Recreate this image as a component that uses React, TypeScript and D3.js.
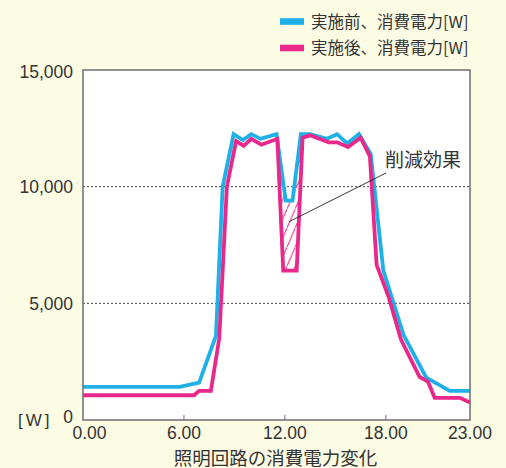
import React, { useRef, useEffect } from 'react';
import * as d3 from 'd3';

// hours / watts
const beforeHours = [0, 5.75, 6.9, 7.9, 8.3, 8.95, 9.5, 10.0, 10.55, 11.5, 12.05, 12.45, 12.95, 13.5, 14.5, 15.1, 15.7, 16.4, 17.1, 17.85, 19.05, 20.4, 21.8, 23];
const beforeWatts = [1420, 1420, 1600, 3600, 10000, 12250, 12000, 12250, 12050, 12250, 9400, 9400, 12250, 12250, 12050, 12250, 11850, 12250, 11400, 6400, 3650, 1820, 1250, 1250];

const afterHours = [0, 6.6, 6.9, 7.6, 8.1, 8.55, 9.1, 9.55, 10.0, 10.6, 11.55, 11.9, 12.7, 13.05, 13.5, 14.6, 15.1, 15.75, 16.5, 17.05, 17.45, 18.15, 18.9, 20.0, 20.5, 20.9, 22.4, 23];
const afterWatts = [1060, 1060, 1250, 1250, 3500, 10000, 11950, 11750, 12050, 11800, 12050, 6400, 6400, 12100, 12200, 11900, 11900, 11700, 12100, 11300, 6650, 5300, 3450, 1850, 1650, 950, 950, 750];

const seriesNames = ['実施前、消費電力[W]', '実施後、消費電力[W]'];
const seriesColors = ['#1eb0e6', '#e8298b'];

const yTicks = [0, 5000, 10000, 15000];
const yGrid = [5000, 10000];
const xTicks = [0, 6, 12, 18, 23];
const xTitle = '照明回路の消費電力変化';
const yUnit = '[W]';
const annotation = '削減効果';
const dipRange = [11.5, 13.0];

const W = 506;
const H = 468;
const FONT = '"Liberation Sans", Arial, "Noto Sans CJK JP", sans-serif';
const JP = '"Noto Sans CJK JP", sans-serif';

const App: React.FC = () => {
  const svgRef = useRef<SVGSVGElement>(null);

  useEffect(() => {
    if (!svgRef.current) return;
    const root = d3.select(svgRef.current);
    root.selectAll('*').remove();

    const margin = { top: 70, right: 36, bottom: 48, left: 83 };
    const x = d3.scaleLinear().domain([0, 23]).range([margin.left, W - margin.right]);
    const y = d3.scaleLinear().domain([0, 15000]).range([H - margin.bottom, margin.top]);

    root.append('rect').attr('width', W).attr('height', H).attr('fill', '#fcfbe4');

    const defs = root.append('defs');
    const pat = defs
      .append('pattern')
      .attr('id', 'hatch')
      .attr('patternUnits', 'userSpaceOnUse')
      .attr('width', 8.2)
      .attr('height', 19);
    pat
      .append('line')
      .attr('x1', -0.5)
      .attr('y1', 20)
      .attr('x2', 8.7)
      .attr('y2', -1)
      .attr('stroke', seriesColors[1])
      .attr('stroke-width', 1);

    // plot area
    root
      .append('rect')
      .attr('x', x(0))
      .attr('y', y(15000))
      .attr('width', x(23) - x(0))
      .attr('height', y(0) - y(15000))
      .attr('fill', '#fff');

    // grid
    root
      .append('g')
      .selectAll('line')
      .data(yGrid)
      .enter()
      .append('line')
      .attr('x1', x(0))
      .attr('x2', x(23))
      .attr('y1', (d) => y(d))
      .attr('y2', (d) => y(d))
      .attr('stroke', '#444')
      .attr('stroke-width', 1)
      .attr('stroke-dasharray', '2,2');

    const before = beforeHours.map((h, i) => [h, beforeWatts[i]] as [number, number]);
    const after = afterHours.map((h, i) => [h, afterWatts[i]] as [number, number]);

    // hatched reduction area: under "before", above "after", inside the dip
    const clipAfter = defs.append('clipPath').attr('id', 'above-after');
    clipAfter
      .append('path')
      .attr(
        'd',
        d3
          .area<[number, number]>()
          .x((d) => x(d[0]))
          .y0((d) => y(d[1]))
          .y1(y(15000))(after)
      );
    const clipDip = defs.append('clipPath').attr('id', 'dip');
    clipDip
      .append('rect')
      .attr('x', x(dipRange[0]))
      .attr('y', y(15000))
      .attr('width', x(dipRange[1]) - x(dipRange[0]))
      .attr('height', y(0) - y(15000));

    root
      .append('g')
      .attr('clip-path', 'url(#dip)')
      .append('path')
      .attr('clip-path', 'url(#above-after)')
      .attr(
        'd',
        d3
          .area<[number, number]>()
          .x((d) => x(d[0]))
          .y0(y(0))
          .y1((d) => y(d[1]))(before)
      )
      .attr('fill', 'url(#hatch)');

    const line = d3
      .line<[number, number]>()
      .x((d) => x(d[0]))
      .y((d) => y(d[1]));

    [before, after].forEach((s, i) => {
      root
        .append('path')
        .datum(s)
        .attr('fill', 'none')
        .attr('stroke', seriesColors[i])
        .attr('stroke-width', 3.8)
        .attr('stroke-linejoin', 'miter')
        .attr('d', line);
    });

    // frame
    root
      .append('rect')
      .attr('x', x(0))
      .attr('y', y(15000))
      .attr('width', x(23) - x(0))
      .attr('height', y(0) - y(15000))
      .attr('fill', 'none')
      .attr('stroke', '#6e6e6e')
      .attr('stroke-width', 1.5);

    // x ticks (inside)
    root
      .append('g')
      .selectAll('line')
      .data(xTicks.slice(1, -1))
      .enter()
      .append('line')
      .attr('x1', (d) => x(d))
      .attr('x2', (d) => x(d))
      .attr('y1', y(0))
      .attr('y2', y(0) - 5)
      .attr('stroke', '#6e6e6e')
      .attr('stroke-width', 1);

    root
      .append('g')
      .selectAll('text')
      .data(xTicks)
      .enter()
      .append('text')
      .attr('x', (d) => x(d) + (d === 0 ? 6.5 : 0))
      .attr('y', 439)
      .attr('text-anchor', 'middle')
      .style('font-family', FONT)
      .style('font-size', '17.5px')
      .style('fill', '#333')
      .text((d) => d.toFixed(2));

    root
      .append('g')
      .selectAll('text')
      .data(yTicks)
      .enter()
      .append('text')
      .attr('x', 73)
      .attr('y', (d) => y(d) + (d === 0 ? 3 : d === 15000 ? 8 : 6.5))
      .attr('text-anchor', 'end')
      .style('font-family', FONT)
      .style('font-size', '17.5px')
      .style('fill', '#333')
      .text((d) => d3.format(',')(d));

    root
      .append('text')
      .attr('x', 18)
      .attr('y', 425.5)
      .style('font-family', FONT)
      .style('font-size', '17px')
      .style('letter-spacing', '3px')
      .style('fill', '#333')
      .text(yUnit);

    // title sits at the bottom edge, as in the original
    root
      .append('text')
      .attr('x', (x(0) + x(23)) / 2 - 1)
      .attr('y', 464.5)
      .attr('text-anchor', 'middle')
      .style('font-family', JP)
      .style('font-size', '18.5px')
      .style('fill', '#333')
      .text(xTitle);

    // annotation
    root
      .append('line')
      .attr('x1', 386)
      .attr('y1', 173)
      .attr('x2', x(12.25))
      .attr('y2', y(8500))
      .attr('stroke', '#222')
      .attr('stroke-width', 0.9);
    root
      .append('text')
      .attr('x', 385)
      .attr('y', 167)
      .style('font-family', JP)
      .style('font-size', '19px')
      .style('fill', '#333')
      .text(annotation);

    // legend
    const legend = root.append('g');
    seriesNames.forEach((name, i) => {
      const cy = 21.5 + i * 26.5;
      legend
        .append('rect')
        .attr('x', 280)
        .attr('y', cy - 3.3)
        .attr('width', 24)
        .attr('height', 6.6)
        .attr('fill', seriesColors[i]);
      legend
        .append('text')
        .attr('x', 311)
        .attr('y', cy + 6)
        .style('font-family', JP)
        .style('font-size', '16.5px')
        .style('fill', '#333')
        .text(name);
    });
  }, []);

  return (
    <svg
      ref={svgRef}
      width={W}
      height={H}
      style={{ position: 'absolute', left: 0, top: 0, display: 'block' }}
    ></svg>
  );
};

export default App;
